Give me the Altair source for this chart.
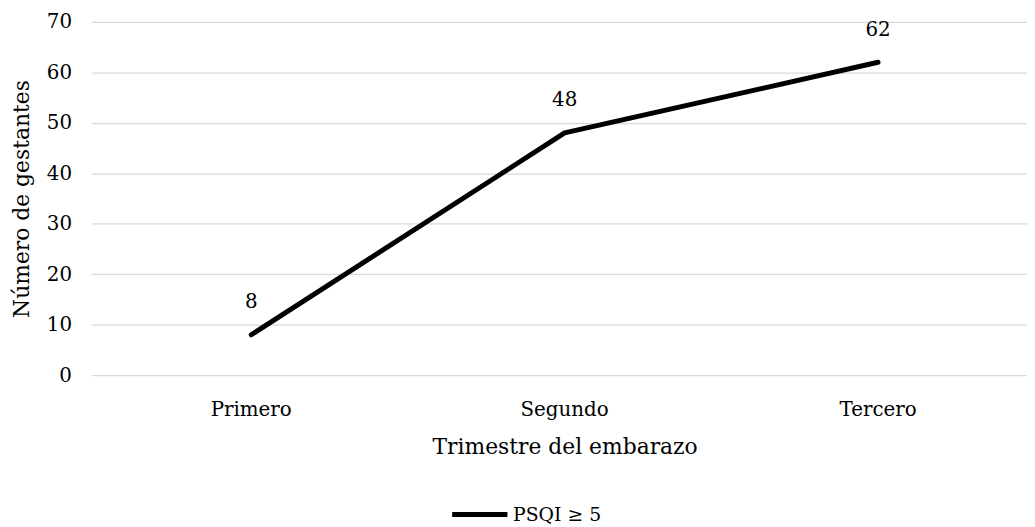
import altair as alt
import pandas as pd

categories = ["Primero", "Segundo", "Tercero"]
values = [8, 48, 62]
series = ["PSQI ≥ 5"] * 3

df = pd.DataFrame({"trimestre": categories, "n": values, "serie": series})

FONT = "DejaVu Serif"

x = alt.X("trimestre:N", sort=categories,
          scale=alt.Scale(type="band", paddingInner=0, paddingOuter=0.01),
          axis=alt.Axis(title="Trimestre del embarazo", labelAngle=0, domain=False, ticks=False,
                        grid=False, labelPadding=25, titlePadding=17,
                        labelFontSize=20, titleFontSize=22, labelFont=FONT, titleFont=FONT,
                        labelColor="#000000", titleColor="#000000", titleFontWeight="normal"))
y = alt.Y("n:Q", scale=alt.Scale(domain=[0, 70]),
          axis=alt.Axis(title="Número de gestantes", values=[0, 10, 20, 30, 40, 50, 60, 70],
                        domain=False, ticks=False, grid=True, gridColor="#d9d9d9", gridWidth=1.3,
                        labelPadding=20, titlePadding=13, labelFontSize=20, titleFontSize=22,
                        labelFont=FONT, titleFont=FONT, labelColor="#000000",
                        titleColor="#000000", titleFontWeight="normal"))

line = alt.Chart(df).mark_line(strokeWidth=5, strokeCap="round", strokeJoin="round").encode(
    x=x, y=y,
    color=alt.Color("serie:N", scale=alt.Scale(range=["#000000"]),
                    legend=alt.Legend(title=None, orient="none", legendX=361, legendY=466,
                                      symbolType="stroke", symbolSize=3100, symbolStrokeWidth=5,
                                      labelFontSize=19, labelFont=FONT, labelColor="#000000",
                                      labelOffset=3))
)

labels = alt.Chart(df).mark_text(dy=-33, fontSize=20, font=FONT, color="#000000").encode(
    x=alt.X("trimestre:N", sort=categories), y="n:Q", text="n:Q"
)

chart = (line + labels).properties(
    width=954, height=356,
    background="white",
    autosize=alt.AutoSizeParams(type="none"),
    padding={"left": 84, "top": 12, "right": -11, "bottom": 150},
).configure_view(stroke=None).configure_legend(symbolStrokeWidth=5)

chart.save("out.html", embed_options={"renderer": "svg", "actions": False})
